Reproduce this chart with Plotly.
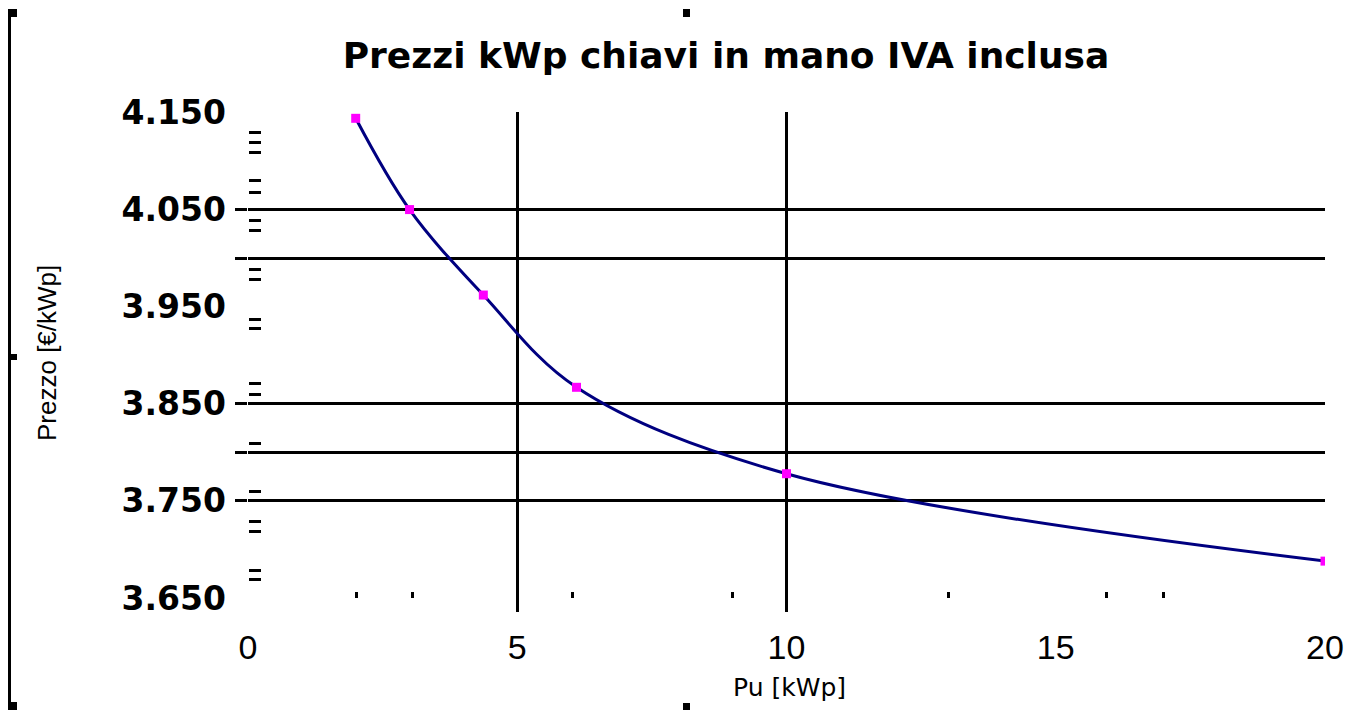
import plotly.graph_objects as go

# ---- data ----
pu_kwp = [2.0, 3.0, 4.37, 6.1, 10.0, 20.0]
prezzo = [4.144, 4.050, 3.962, 3.867, 3.778, 3.688]

y_label_vals = [4.15, 4.05, 3.95, 3.85, 3.75, 3.65]
y_label_text = ["4.150", "4.050", "3.950", "3.850", "3.750", "3.650"]
y_grid_vals = [4.05, 4.00, 3.85, 3.80, 3.75]
y_mark_vals = [4.1289, 4.1186, 4.1083, 4.0795, 4.0681, 4.0383, 4.0280, 3.9888,
               3.9785, 3.9373, 3.9280, 3.8704, 3.8601, 3.8096, 3.7592, 3.7293,
               3.7190, 3.6788, 3.6695]
x_label_vals = [0, 5, 10, 15, 20]
x_grid_vals = [5, 10, 20]
x_mark_vals = [2.02, 3.05, 6.02, 9.0, 13.0, 15.95, 17.0]

X_RANGE = [0, 20]
Y_RANGE = [3.6356, 4.1505]

# the page places the figure 8px in from the window corner
OFF = 8
W, H = 1357, 710
PL, PR, PT, PB = 248, 1325, 112, 612          # plot area in window pixels
L, T = PL - OFF, PT - OFF
R, B = W - (PR - OFF), H - (PB - OFF)
PW, PH = PR - PL, PB - PT


def px(xs):
    return (xs - PL) / PW


def py(ys):
    return (PB - ys) / PH


fig = go.Figure()
fig.add_trace(go.Scatter(
    x=pu_kwp, y=prezzo, mode="lines+markers",
    line=dict(color="#000080", width=3, shape="spline", smoothing=1.0),
    marker=dict(symbol="square", size=9, color="#FF00FF"),
    showlegend=False, hoverinfo="x+y"))
# empty helper traces so the overlay axes exist
fig.add_trace(go.Scatter(x=[None], y=[None], xaxis="x2", yaxis="y2",
                         showlegend=False, hoverinfo="skip"))
fig.add_trace(go.Scatter(x=[None], y=[None], xaxis="x3", yaxis="y3",
                         showlegend=False, hoverinfo="skip"))

black = "#000000"
fig.update_layout(
    width=W, height=H,
    margin=dict(l=L, r=R, t=T, b=B, pad=0),
    paper_bgcolor="white", plot_bgcolor="white",
    title=dict(text="<b>Prezzi kWp chiavi in mano IVA inclusa</b>",
               x=px(726), xref="paper", xanchor="center",
               y=1 - (55 - OFF) / H, yref="container", yanchor="middle",
               font=dict(family="DejaVu Sans", size=36, color=black)),
    xaxis=dict(range=X_RANGE, tickmode="array", tickvals=x_grid_vals,
               showticklabels=False, ticks="", showgrid=True,
               gridcolor=black, gridwidth=3, zeroline=False, showline=False),
    yaxis=dict(range=Y_RANGE, tickmode="array", tickvals=y_grid_vals,
               showticklabels=False, ticks="outside", ticklen=12,
               tickwidth=3, tickcolor=black, showgrid=True,
               gridcolor=black, gridwidth=3, zeroline=False, showline=False),
    xaxis2=dict(range=X_RANGE, overlaying="x", anchor="y", side="bottom",
                tickmode="array", tickvals=x_label_vals,
                ticktext=[str(v) for v in x_label_vals], ticks="",
                ticklabelstandoff=12, showgrid=False, zeroline=False,
                showline=False,
                tickfont=dict(family="Liberation Sans", size=34, color=black)),
    yaxis2=dict(range=Y_RANGE, overlaying="y", anchor="x", side="left",
                tickmode="array", tickvals=y_label_vals, ticktext=y_label_text,
                ticks="", ticklabelstandoff=21, showgrid=False,
                zeroline=False, showline=False,
                tickfont=dict(family="DejaVu Sans", size=33, color=black,
                              weight="bold")),
    xaxis3=dict(range=X_RANGE, overlaying="x", anchor="free",
                position=py(598), side="bottom",
                tickmode="array", tickvals=x_mark_vals, ticks="inside",
                ticklen=6, tickwidth=3, tickcolor=black,
                showticklabels=False, showgrid=False, zeroline=False,
                showline=False),
    yaxis3=dict(range=Y_RANGE, overlaying="y", anchor="free", position=0.0,
                side="left", tickmode="array", tickvals=y_mark_vals,
                ticks="inside", ticklen=12, tickwidth=2.5, tickcolor=black,
                showticklabels=False, showgrid=False, zeroline=False,
                showline=False),
)

# axis titles
fig.add_annotation(text="Prezzo [€/kWp]", textangle=-90, showarrow=False,
                   xref="paper", yref="paper", x=px(47), y=py(353),
                   xanchor="center", yanchor="middle",
                   font=dict(family="Liberation Sans", size=26, color=black))
fig.add_annotation(text="Pu [kWp]", showarrow=False,
                   xref="paper", yref="paper", x=px(789), y=py(687),
                   xanchor="center", yanchor="middle",
                   font=dict(family="DejaVu Sans", size=25, color=black))

# frame line and selection handles (window pixels)
deco = [
    (8, 9, 11, 705),
    (8, 9, 17, 17), (8, 702, 17, 710), (10, 354, 17, 360),
    (683, 9, 690, 17), (683, 703, 690, 710),
    (1353, 9, 1357, 16), (1353, 355, 1357, 362), (1353, 703, 1357, 710),
]
for x0, y0, x1, y1 in deco:
    fig.add_shape(type="rect", xref="paper", yref="paper",
                  x0=px(x0), x1=px(x1), y0=py(y0), y1=py(y1),
                  fillcolor=black, line=dict(width=0), layer="above")

fig.write_html("out.html")
